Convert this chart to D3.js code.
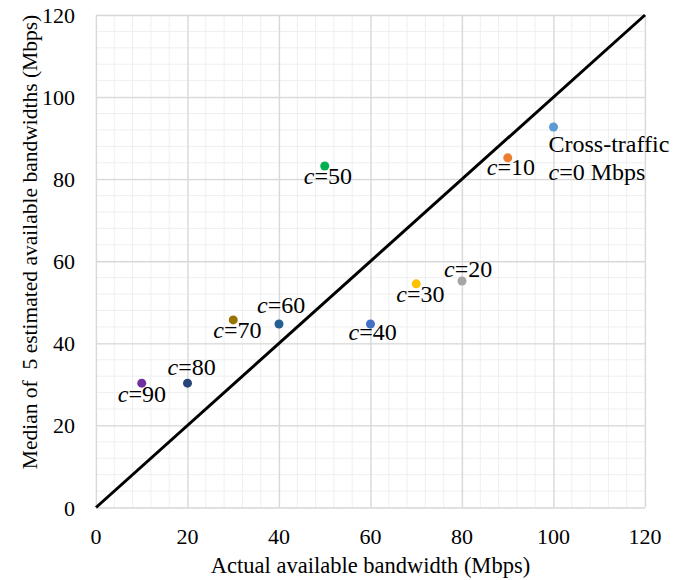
<!DOCTYPE html>
<html lang="en">
  <head>
    <meta charset="UTF-8" />
    <title>Median estimated vs actual available bandwidth</title>
    <script src="https://d3js.org/d3.v7.min.js"></script>
    <style>
      body {
        margin: 0;
        padding: 0;
        background-color: #fff;
      }
    </style>
  </head>
  <body>
    <div id="chart"></div>

    <script>
      // data
      const crossTraffic = [0, 10, 20, 30, 40, 50, 60, 70, 80, 90];
      const actualBw = [100, 90, 80, 70, 60, 50, 40, 30, 20, 10];
      const medianBw = [92.7, 85.2, 55.2, 54.5, 44.7, 83.2, 44.7, 45.7, 30.3, 30.3];
      const pointColors = ["#5b9bd5", "#ed7d31", "#a5a5a5", "#ffc000", "#4472c4", "#00b050", "#255e91", "#997300", "#264478", "#7030a0"];
      // label offset from its point, in px
      const labelDx = [-5, -21, -18, -20, -22, -21, -22, -20, -20, -24];
      const labelDy = [25, 17, -4, 18, 16, 18, -11, 18, -8, 19];
      const xTicks = [0, 20, 40, 60, 80, 100, 120];
      const yTicks = [0, 20, 40, 60, 80, 100, 120];

      const width = 693;
      const height = 580;
      const margin = { top: 15, right: 48, bottom: 72.5, left: 96 };
      const serif = "'Liberation Serif', 'DejaVu Serif', 'Times New Roman', serif";

      const svg = d3.select("#chart")
        .append("svg")
        .attr("width", width)
        .attr("height", height)
        .attr("font-family", serif)
        .style("font-family", serif);

      const x = d3.scaleLinear().domain([0, 120]).range([margin.left, width - margin.right]);
      const y = d3.scaleLinear().domain([0, 120]).range([height - margin.bottom, margin.top]);

      // minor grid
      const minor = d3.range(0, 121, 4);
      svg.append("g")
        .selectAll("line")
        .data(minor)
        .join("line")
        .attr("x1", (d) => x(d))
        .attr("x2", (d) => x(d))
        .attr("y1", y(0))
        .attr("y2", y(120))
        .attr("stroke", "#efefef")
        .attr("stroke-width", 1);
      svg.append("g")
        .selectAll("line")
        .data(minor)
        .join("line")
        .attr("y1", (d) => y(d))
        .attr("y2", (d) => y(d))
        .attr("x1", x(0))
        .attr("x2", x(120))
        .attr("stroke", "#efefef")
        .attr("stroke-width", 1);

      // major grid
      svg.append("g")
        .attr("transform", `translate(0,${y(0)})`)
        .call(d3.axisBottom(x).tickValues(xTicks).tickSize(-(y(0) - y(120))).tickFormat(""))
        .call((g) => g.select(".domain").remove())
        .call((g) => g.selectAll("line").attr("stroke", "#d9d9d9").attr("stroke-width", 1.3));
      svg.append("g")
        .attr("transform", `translate(${x(0)},0)`)
        .call(d3.axisLeft(y).tickValues(yTicks).tickSize(-(x(120) - x(0))).tickFormat(""))
        .call((g) => g.select(".domain").remove())
        .call((g) => g.selectAll("line").attr("stroke", "#d9d9d9").attr("stroke-width", 1.3));

      // tick labels
      svg.append("g")
        .selectAll("text")
        .data(xTicks)
        .join("text")
        .attr("x", (d) => x(d))
        .attr("y", y(0) + 36)
        .attr("text-anchor", "middle")
        .style("font-size", "22px")
        .text((d) => d);
      svg.append("g")
        .selectAll("text")
        .data(yTicks)
        .join("text")
        .attr("x", x(0) - 21)
        .attr("y", (d) => y(d) + 8)
        .attr("text-anchor", "end")
        .style("font-size", "22px")
        .text((d) => d);

      // axis titles
      svg.append("text")
        .attr("x", (x(0) + x(120)) / 2)
        .attr("y", height - 7)
        .attr("text-anchor", "middle")
        .style("font-size", "22.5px")
        .text("Actual available bandwidth (Mbps)");
      svg.append("text")
        .attr("transform", "translate(37,242) rotate(-90)")
        .attr("text-anchor", "middle")
        .style("font-size", "21.5px")
        .style("white-space", "pre")
        .text("Median of  5 estimated available bandwidths (Mbps)");

      // y = x reference line
      svg.append("line")
        .attr("x1", x(0))
        .attr("y1", y(0))
        .attr("x2", x(120))
        .attr("y2", y(120))
        .attr("stroke", "#000")
        .attr("stroke-width", 3);

      // points
      svg.append("g")
        .selectAll("circle")
        .data(crossTraffic)
        .join("circle")
        .attr("cx", (d, i) => x(actualBw[i]))
        .attr("cy", (d, i) => y(medianBw[i]))
        .attr("r", 4.5)
        .attr("fill", (d, i) => pointColors[i]);

      // labels
      const labels = svg.append("g")
        .selectAll("text")
        .data(crossTraffic)
        .join("text")
        .attr("x", (d, i) => x(actualBw[i]) + labelDx[i])
        .attr("y", (d, i) => y(medianBw[i]) + labelDy[i])
        .style("font-size", "24px");

      labels.each(function (d, i) {
        const t = d3.select(this);
        if (d === 0) {
          t.append("tspan").text("Cross-traffic");
          const line2 = t.append("tspan").attr("x", x(actualBw[i]) + labelDx[i]).attr("dy", 28);
          line2.append("tspan").style("font-style", "italic").text("c");
          line2.append("tspan").text("=0 Mbps");
        } else {
          t.append("tspan").style("font-style", "italic").text("c");
          t.append("tspan").text("=" + d);
        }
      });
    </script>
  </body>
</html>
